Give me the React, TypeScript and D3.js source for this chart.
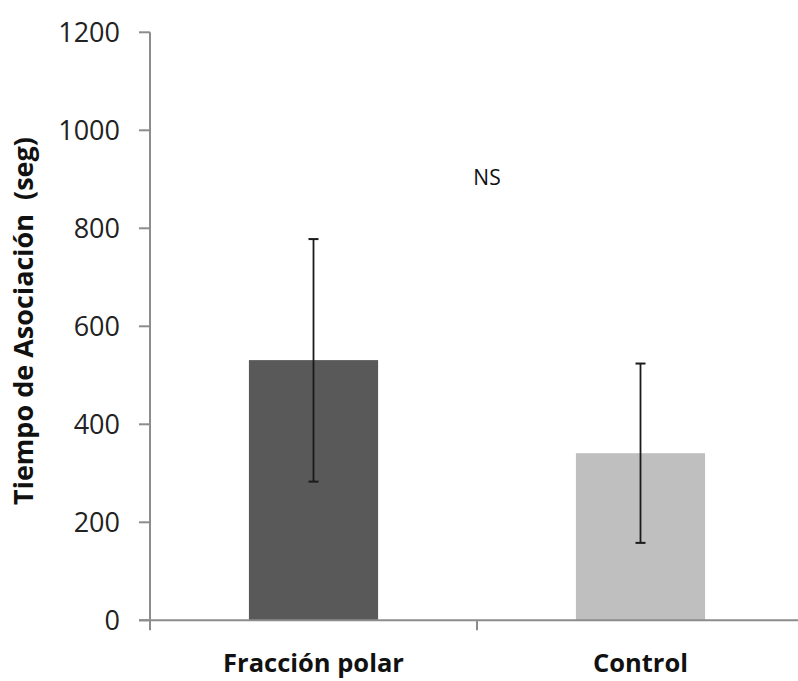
import React from "react";
import * as d3 from "d3";

const categories = ["Fracción polar", "Control"];
const means = [531, 341];
const errLow = [283, 158];
const errHigh = [778, 524];
const yTicks = [0, 200, 400, 600, 800, 1000, 1200];
const barColors = ["#595959", "#bfbfbf"];
const yLabel = "Tiempo de Asociación  (seg)";
const annotation = "NS";

export default function App() {
  const W = 798, H = 681;
  const x0 = 150, x1 = 804, yTop = 32.3, yBot = 620.3;
  const x = d3.scaleBand<string>().domain(categories).range([x0, x1]).paddingInner(0.605).paddingOuter(0.3025);
  const y = d3.scaleLinear().domain([0, 1200]).range([yBot, yTop]);
  const bw = x.bandwidth();
  const font = "'Open Sans', 'Noto Sans', sans-serif";
  const axisColor = "#8c8c8c";
  const catEdges = [x0, x0 + (x1 - x0) / 2, x1];
  return (
    <svg width={W} height={H} style={{ position: "absolute", left: 0, top: 0, background: "#fff" }}>
      {/* y axis */}
      <line x1={x0} x2={x0} y1={yTop} y2={yBot} stroke={axisColor} strokeWidth={2} />
      {yTicks.map((t) => (
        <g key={t}>
          <line x1={x0 - 11} x2={x0} y1={y(t)} y2={y(t)} stroke={axisColor} strokeWidth={2} />
          <text x={120} y={y(t)} dy="0.36em" textAnchor="end" fontFamily={font} fontSize={27} fill="#222">
            {t}
          </text>
        </g>
      ))}
      {/* bars */}
      {categories.map((c, i) => (
        <rect key={c} x={x(c)!} y={y(means[i])} width={bw} height={yBot - y(means[i])} fill={barColors[i]} />
      ))}
      {/* x axis */}
      <line x1={x0 - 11} x2={x1} y1={yBot} y2={yBot} stroke={axisColor} strokeWidth={2} />
      {catEdges.map((e, i) => (
        <line key={i} x1={e} x2={e} y1={yBot} y2={yBot + 10} stroke={axisColor} strokeWidth={2} />
      ))}
      {/* error bars */}
      {categories.map((c, i) => {
        const cx = x(c)! + bw / 2;
        return (
          <g key={c} stroke="#1a1a1a" strokeWidth={1.8}>
            <line x1={cx} x2={cx} y1={y(errHigh[i])} y2={y(errLow[i])} />
            <line x1={cx - 5} x2={cx + 5} y1={y(errHigh[i])} y2={y(errHigh[i])} strokeWidth={2} />
            <line x1={cx - 5} x2={cx + 5} y1={y(errLow[i])} y2={y(errLow[i])} strokeWidth={2} />
          </g>
        );
      })}
      {/* category labels */}
      {categories.map((c) => (
        <text key={c} x={x(c)! + bw / 2} y={672} textAnchor="middle" fontFamily={font} fontWeight="bold" fontSize={25.5} fill="#111">
          {c}
        </text>
      ))}
      <text x={487} y={185} textAnchor="middle" fontFamily={font} fontSize={21} fill="#111">
        {annotation}
      </text>
      <text
        transform={`translate(33, 321) rotate(-90)`}
        textAnchor="middle"
        fontFamily={font}
        fontWeight="bold"
        fontSize={27}
        fill="#111"
        xmlSpace="preserve"
        style={{ whiteSpace: "pre" }}
      >
        {yLabel}
      </text>
    </svg>
  );
}
